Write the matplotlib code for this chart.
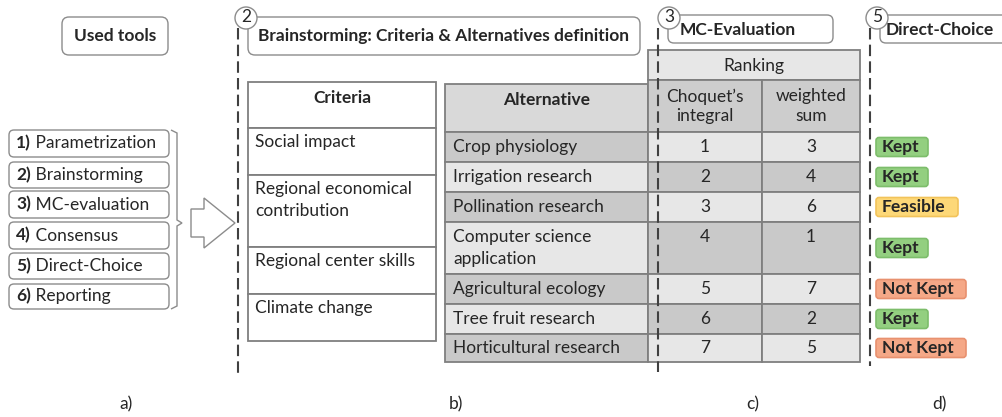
import matplotlib.pyplot as plt
from matplotlib.patches import FancyBboxPatch, Rectangle, Circle, Polygon
from matplotlib.path import Path
from matplotlib.patches import PathPatch

plt.rcParams['font.family'] = ['Lato', 'DejaVu Sans']

# data
tools = ['Parametrization', 'Brainstorming', 'MC-evaluation', 'Consensus', 'Direct-Choice', 'Reporting']
criteria = ['Social impact', 'Regional economical\ncontribution', 'Regional center skills', 'Climate change']
alternatives = ['Crop physiology', 'Irrigation research', 'Pollination research',
                'Computer science\napplication', 'Agricultural ecology', 'Tree fruit research',
                'Horticultural research']
choquet_rank = [1, 2, 3, 4, 5, 6, 7]
weighted_rank = [3, 4, 6, 1, 7, 2, 5]
decision = ['Kept', 'Kept', 'Feasible', 'Kept', 'Not Kept', 'Kept', 'Not Kept']
panel_labels = ['a)', 'b)', 'c)', 'd)']

# layout (pixels)
tool_rows = [(130, 157), (162, 188), (191, 218), (222, 249), (253, 279), (284, 309)]
crit_edges = [82, 128, 175, 247, 294, 341]
alt_edges = [84, 132, 162, 192, 222, 274, 304, 334, 362]
badge_w = {'Kept': 51, 'Feasible': 81, 'Not Kept': 89}
badge_col = {'Kept': ('#93cf80', '#7dbd6b'), 'Feasible': ('#fdd878', '#f2c35a'),
             'Not Kept': ('#f5a887', '#e8916f')}
dark, light = '#c9c9c9', '#e7e7e7'
edge = '#7f7f7f'
fs = 12.5
txt = '#262626'

fig = plt.figure(figsize=(10.03, 4.17), dpi=100, facecolor='white')
ax = fig.add_axes([0, 0, 1, 1])
ax.set_xlim(0, 1003)
ax.set_ylim(417, 0)
ax.axis('off')


def rbox(x0, y0, x1, y1, r=6, fc='white', ec='#8c8c8c', lw=1.0, z=2):
    ax.add_patch(FancyBboxPatch((x0, y0), x1 - x0, y1 - y0,
                                boxstyle=f'round,pad=0,rounding_size={r}',
                                fc=fc, ec=ec, lw=lw, zorder=z))


def cell(x0, y0, x1, y1, fc):
    ax.add_patch(Rectangle((x0, y0), x1 - x0, y1 - y0, fc=fc, ec=edge, lw=1.3, zorder=2))


def step_marker(x, y, num):
    ax.add_patch(Circle((x, y), 11, fc='white', ec='#8c8c8c', lw=1.0, zorder=5))
    ax.text(x, y - 1, str(num), ha='center', va='center', fontsize=fs, color=txt, zorder=6)


def dashed(x, y0, y1):
    ax.plot([x, x], [y0, y1], color='#404040', lw=1.5, ls=(0, (5.5, 2.5)), zorder=4)


# a) used tools
rbox(62, 17, 168, 55, r=7)
ax.text(115, 36, 'Used tools', ha='center', va='center', fontsize=fs, fontweight='bold', color=txt)
for i, (name, (y0, y1)) in enumerate(zip(tools, tool_rows)):
    rbox(9, y0, 169, y1, r=5)
    t = ax.text(16, (y0 + y1) / 2, f'{i + 1})', ha='left', va='center', fontsize=fs,
                fontweight='bold', color=txt)
    ax.annotate(' ' + name, xycoords=t, xy=(1, 0.5), va='center', ha='left', fontsize=fs, color=txt)

# brace
brace = Path([(171, 130), (177, 133), (177, 220), (182, 223), (177, 226), (177, 306), (171, 309)],
             [Path.MOVETO] + [Path.LINETO] * 6)
ax.add_patch(PathPatch(brace, fc='none', ec='#8c8c8c', lw=1.0))

# hollow arrow
ax.add_patch(Polygon([(191, 209), (204, 209), (204, 198), (235, 223), (204, 248), (204, 237), (191, 237)],
                     closed=True, fc='white', ec='#8c8c8c', lw=1.0))

# b) brainstorming
dashed(238, 28, 375)
rbox(248, 17, 640, 55, r=7)
step_marker(246, 18, 2)
ax.text(258, 36, 'Brainstorming: Criteria & Alternatives definition', ha='left', va='center',
        fontsize=fs, fontweight='bold', color=txt, zorder=6)

cx0, cx1 = 248, 436
for i in range(len(crit_edges) - 1):
    cell(cx0, crit_edges[i], cx1, crit_edges[i + 1], 'white')
ax.text((cx0 + cx1) / 2, 98, 'Criteria', ha='center', va='center', fontsize=fs, fontweight='bold',
        color=txt, zorder=3)
for name, y0 in zip(criteria, crit_edges[1:]):
    ax.text(255, y0 + 6, name, ha='left', va='top', fontsize=fs, linespacing=1.45, color=txt, zorder=3)

# alternatives + ranking
ax0, ax1, ax2, ax3 = 445, 648, 762, 860
cell(ax0, alt_edges[0], ax1, alt_edges[1], '#d9d9d9')
ax.text((ax0 + ax1) / 2, 100, 'Alternative', ha='center', va='center', fontsize=fs, fontweight='bold',
        color=txt, zorder=3)
cell(ax1, 50, ax3, 80, light)
ax.text((ax1 + ax3) / 2, 66, 'Ranking', ha='center', va='center', fontsize=fs, color=txt, zorder=3)
cell(ax1, 80, ax2, alt_edges[1], '#cdcdcd')
cell(ax2, 80, ax3, alt_edges[1], '#cdcdcd')
ax.text((ax1 + ax2) / 2, 106, 'Choquet\u2019s\nintegral', ha='center', va='center', fontsize=fs,
        linespacing=1.25, color=txt, zorder=3)
ax.text((ax2 + ax3) / 2, 106, 'weighted\nsum', ha='center', va='center', fontsize=fs,
        linespacing=1.25, color=txt, zorder=3)

for i, name in enumerate(alternatives):
    y0, y1 = alt_edges[i + 1], alt_edges[i + 2]
    fa, fr = (dark, light) if i % 2 == 0 else (light, dark)
    cell(ax0, y0, ax1, y1, fa)
    cell(ax1, y0, ax2, y1, fr)
    cell(ax2, y0, ax3, y1, fr)
    ax.text(453, (y0 + y1) / 2, name, ha='left', va='center', fontsize=fs, linespacing=1.4,
            color=txt, zorder=3)
    ty = (y0 + y1) / 2 if '\n' not in name else y0 + 15
    ax.text((ax1 + ax2) / 2, ty, str(choquet_rank[i]), ha='center', va='center', fontsize=fs,
            color=txt, zorder=3)
    ax.text((ax2 + ax3) / 2, ty, str(weighted_rank[i]), ha='center', va='center', fontsize=fs,
            color=txt, zorder=3)

    # d) direct choice badges
    d = decision[i]
    fc, ec = badge_col[d]
    yc = (y0 + y1) / 2
    rbox(876, yc - 9.5, 876 + badge_w[d] + 1, yc + 9.5, r=3, fc=fc, ec=ec, lw=1.2, z=3)
    ax.text(882, yc, d, ha='left', va='center', fontsize=fs, fontweight='bold', color=txt, zorder=4)

# c) MC-evaluation header
dashed(658, 28, 372)
rbox(668, 15, 833, 43, r=6)
step_marker(669, 18, 3)
ax.text(680, 30, 'MC-Evaluation', ha='left', va='center', fontsize=fs, fontweight='bold',
        color=txt, zorder=6)

# d) direct choice header
dashed(870, 28, 366)
rbox(880, 15, 1010, 43, r=6)
step_marker(877, 18, 5)
ax.text(886, 30, 'Direct-Choice', ha='left', va='center', fontsize=fs, fontweight='bold',
        color=txt, zorder=6)

for lbl, x in zip(panel_labels, [126, 456, 753, 939]):
    ax.text(x, 404, lbl, ha='center', va='center', fontsize=fs, color=txt)

fig.savefig('out.png', dpi=100, facecolor='white')
